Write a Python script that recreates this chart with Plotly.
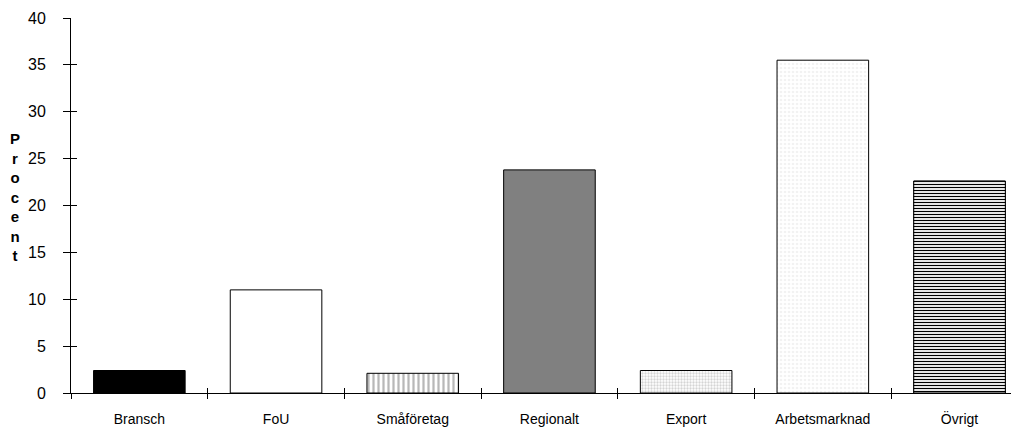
import plotly.graph_objects as go

categories = ["Bransch", "FoU", "Småföretag", "Regionalt", "Export", "Arbetsmarknad", "Övrigt"]
values = [2.4, 11.0, 2.1, 23.8, 2.4, 35.5, 22.6]
y_ticks = [0, 5, 10, 15, 20, 25, 30, 35, 40]
y_title = "Procent"

fill_colors = ["#000000", "#ffffff", "#b8b8b8", "#808080", "#d4d4d4", "#f2f2f2", "#ffffff"]
pat_shapes = ["", "", "|", "", ".", ".", ""]
pat_fg = ["#000000", "#000000", "#a8a8a8", "#000000", "#9a9a9a", "#b4b4b4", "#000000"]
pat_bg = ["#000000", "#ffffff", "#cecece", "#808080", "#e6e6e6", "#ffffff", "#ffffff"]
pat_size = [4, 4, 5, 4, 3, 4, 4]
pat_solid = [0.5, 0.5, 0.45, 0.5, 0.45, 0.35, 0.35]
# horizontal-line hatch for the last bar (drawn as its own trace)
hatch_idx = 6

# page body has an 8px margin, so the figure is sized to end at the window edge
W, H = 1011, 422
L, T = 63, 10
PLOT_W, PLOT_H = 948, 375
xr = [-0.5, 6.435]
font = "Liberation Sans, Arial, sans-serif"

fig = go.Figure()
fig.add_trace(go.Bar(
    x=categories, y=values, width=0.67,
    marker=dict(color=fill_colors, line=dict(color="black", width=1),
                pattern=dict(shape=pat_shapes, fgcolor=pat_fg, bgcolor=pat_bg,
                             size=pat_size, solidity=pat_solid, fillmode="replace")),
    hoverinfo="x+y",
))
fig.add_trace(go.Bar(
    x=[categories[hatch_idx]], y=[values[hatch_idx]], width=0.67,
    marker=dict(color="#ffffff", line=dict(color="black", width=1),
                pattern=dict(shape="-", fgcolor="#000000", bgcolor="#ffffff",
                             size=3, solidity=0.4, fillmode="replace")),
    hoverinfo="skip",
))
# helper trace on overlay axes (for inside ticks that make ticks cross the axes)
fig.add_trace(go.Scatter(x=list(range(len(values))), y=values, xaxis="x2", yaxis="y2",
                         mode="markers", marker=dict(opacity=0), hoverinfo="skip", showlegend=False))

fig.update_layout(
    width=W, height=H, barmode="overlay",
    margin=dict(l=L, r=W - L - PLOT_W, t=T, b=H - T - PLOT_H, autoexpand=False),
    paper_bgcolor="white", plot_bgcolor="white",
    showlegend=False,
    font=dict(family=font, color="black"),
    xaxis=dict(type="category", range=xr, tickson="boundaries", ticks="outside", ticklen=5,
               tickcolor="black", showline=True, linecolor="black", linewidth=1, automargin=False,
               showgrid=False, zeroline=False, tickfont=dict(size=14), ticklabelstandoff=13),
    xaxis2=dict(overlaying="x", anchor="y", range=xr, tickmode="array",
                tickvals=[i - 0.5 for i in range(len(categories))], automargin=False,
                ticks="inside", ticklen=5, tickcolor="black", showticklabels=False,
                showline=False, showgrid=False, zeroline=False),
    yaxis=dict(range=[0, 40], tickmode="array", tickvals=y_ticks, ticks="outside", ticklen=7,
               tickcolor="black", showline=True, linecolor="black", linewidth=1, automargin=False,
               showgrid=False, zeroline=False, tickfont=dict(size=16), ticklabelstandoff=14),
    yaxis2=dict(overlaying="y", anchor="x", side="left", range=[0, 40], tickmode="array",
                tickvals=y_ticks, ticks="inside", ticklen=6, tickcolor="black", automargin=False,
                showticklabels=False, showline=False, showgrid=False, zeroline=False),
    annotations=[dict(text="<b>" + "<br>".join(y_title) + "</b>", xref="paper", yref="paper",
                      x=(15 - 71) / PLOT_W, y=(393 - 197) / PLOT_H, xanchor="center", yanchor="middle",
                      showarrow=False, font=dict(size=15, family=font, color="black"),
                      )],
)

fig.write_html("out.html")
